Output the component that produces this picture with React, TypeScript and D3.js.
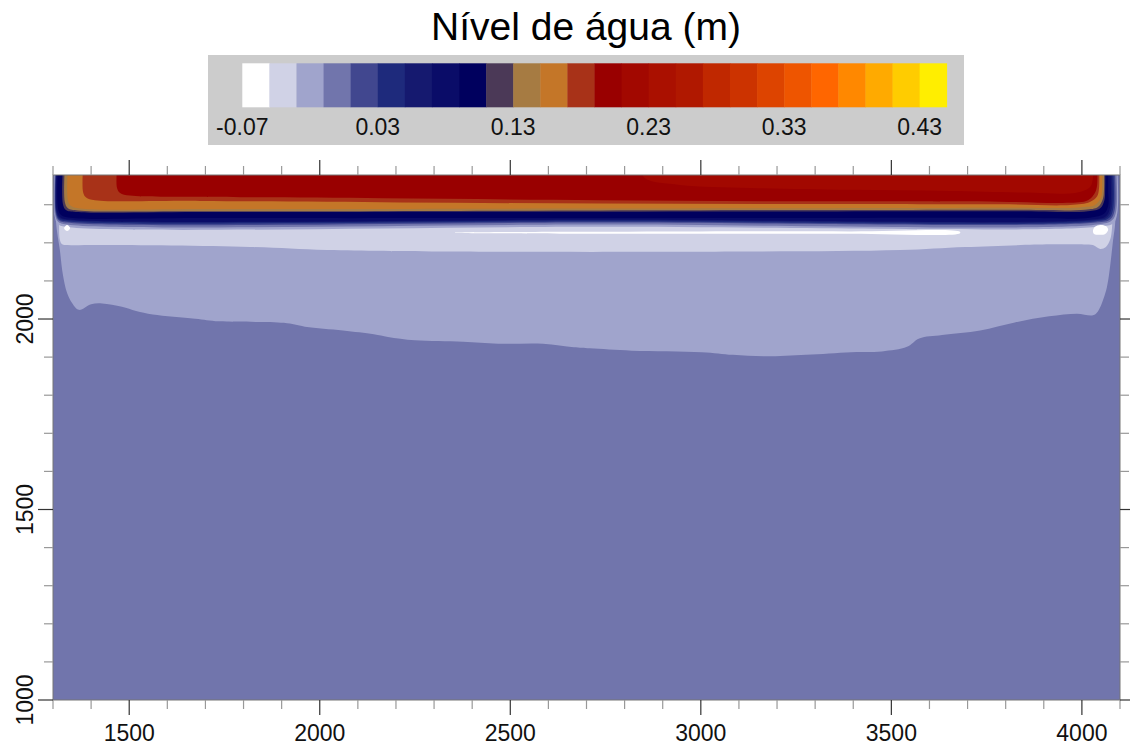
import React from "react";
import * as d3 from "d3";

type Pt = [number, number];

const W = 1130;
const H = 747;
const FONT = '"Liberation Sans", Arial, Helvetica, sans-serif';

// colour levels of the legend (lower bound of each class, step 0.02)
const levelStarts = [
  -0.07, -0.05, -0.03, -0.01, 0.01, 0.03, 0.05, 0.07, 0.09, 0.11, 0.13, 0.15, 0.17,
  0.19, 0.21, 0.23, 0.25, 0.27, 0.29, 0.31, 0.33, 0.35, 0.37, 0.39, 0.41, 0.43,
];
const levelColors = [
  "#ffffff", "#d0d2e6", "#a0a4cc", "#7175ac", "#41478f", "#1e2a7c", "#15196f",
  "#0a0c68", "#00005e", "#4b3957", "#a67b42", "#c47628", "#a83218", "#990000",
  "#a20800", "#aa1000", "#b01800", "#c02800", "#cc3300", "#dd4400", "#ee5500",
  "#ff6600", "#ff8800", "#ffaa00", "#ffcc00", "#ffee00",
];
const legendTickValues = [-0.07, 0.03, 0.13, 0.23, 0.33, 0.43];
const legendTickLabels = ["-0.07", "0.03", "0.13", "0.23", "0.33", "0.43"];

const xMajor = [1500, 2000, 2500, 3000, 3500, 4000];
const yMajor = [1000, 1500, 2000];

// contour boundaries (x, y in map units)
const bandL2: Pt[] = [
  [1308, 2400], [1308, 2255], [1318, 2181], [1326, 2116], [1337, 2068], [1350, 2042],
  [1368, 2024], [1400, 2039], [1429, 2041], [1481, 2032], [1518, 2021], [1562, 2012],
  [1673, 2001], [1736, 1994], [1906, 1990], [1961, 1980], [2061, 1970], [2142, 1960],
  [2179, 1953], [2250, 1944], [2376, 1940], [2468, 1935], [2586, 1935], [2667, 1926],
  [2709, 1923], [2819, 1917], [3003, 1913], [3084, 1906], [3166, 1902], [3276, 1906],
  [3394, 1913], [3475, 1915], [3541, 1927], [3573, 1949], [3633, 1958], [3733, 1970],
  [3824, 1991], [3914, 2007], [3987, 2014], [4029, 2010], [4042, 2020], [4061, 2066],
  [4069, 2102], [4076, 2155], [4082, 2208], [4087, 2247], [4090, 2312], [4090, 2400],
];
const bandL1: Pt[] = [
  [1316, 2400], [1316, 2255], [1318, 2208], [1324, 2196], [1339, 2194], [1423, 2194],
  [1817, 2189], [2019, 2181], [2342, 2177], [3129, 2177], [3523, 2181], [3694, 2189],
  [3916, 2196], [3995, 2196], [4029, 2194], [4048, 2184], [4063, 2189], [4074, 2208],
  [4079, 2239], [4079, 2286], [4079, 2400],
];
const bandS2: Pt[] = [
  [1304, 2400], [1304, 2273], [1312, 2250], [1334, 2242], [2735, 2242], [4042, 2242],
  [4083, 2252], [4093, 2278], [4093, 2400],
];
const bandS3: Pt[] = [
  [1305, 2400], [1305, 2276], [1313, 2256], [1337, 2248], [2735, 2248], [4040, 2248],
  [4079, 2259], [4090, 2283], [4090, 2400],
];
const bandS4: Pt[] = [
  [1307, 2400], [1307, 2278], [1314, 2260], [1337, 2253], [2735, 2253], [4037, 2253],
  [4075, 2262], [4086, 2286], [4086, 2400],
];
const bandS5: Pt[] = [
  [1308, 2400], [1308, 2281], [1316, 2262], [1339, 2256], [2735, 2256], [4034, 2256],
  [4071, 2265], [4082, 2289], [4082, 2400],
];
const bandS6: Pt[] = [
  [1309, 2400], [1309, 2283], [1317, 2265], [1342, 2259], [2735, 2259], [4032, 2259],
  [4067, 2268], [4078, 2291], [4078, 2400],
];
const bandS7: Pt[] = [
  [1310, 2400], [1310, 2286], [1318, 2268], [1345, 2261], [2735, 2261], [4026, 2261],
  [4063, 2270], [4074, 2294], [4074, 2400],
];
const bandS8: Pt[] = [
  [1313, 2400], [1313, 2291], [1321, 2273], [1345, 2266], [1686, 2265], [2735, 2265],
  [3785, 2266], [4021, 2266], [4058, 2276], [4069, 2297], [4069, 2339], [4069, 2400],
];
const bandS9: Pt[] = [
  [1326, 2400], [1326, 2302], [1334, 2286], [1360, 2281], [1686, 2281], [3785, 2283],
  [4016, 2283], [4048, 2291], [4059, 2312], [4061, 2339], [4061, 2400],
];
const bandS10: Pt[] = [
  [1331, 2400], [1331, 2307], [1339, 2291], [1366, 2285], [1686, 2283], [2735, 2285],
  [3785, 2287], [4008, 2287], [4042, 2294], [4055, 2315], [4058, 2339], [4058, 2400],
];
const bandS11: Pt[] = [
  [1339, 2400], [1339, 2312], [1347, 2297], [1371, 2290], [1686, 2289], [2735, 2290],
  [3785, 2292], [3995, 2293], [4034, 2299], [4050, 2318], [4053, 2339], [4053, 2400],
];
const bandS12: Pt[] = [
  [1379, 2400], [1379, 2333], [1387, 2319], [1410, 2312], [1686, 2310], [2211, 2306],
  [2735, 2303], [3260, 2302], [3785, 2301], [3969, 2299], [4021, 2307], [4040, 2322],
  [4045, 2344], [4045, 2400],
];
const bandS13: Pt[] = [
  [1468, 2400], [1468, 2344], [1476, 2331], [1502, 2324], [1686, 2321], [2166, 2317],
  [2735, 2312], [3260, 2309], [3785, 2308], [3961, 2305], [4016, 2312], [4034, 2331],
  [4040, 2352], [4040, 2400],
];
const bandS14: Pt[] = [
  [2840, 2400], [2853, 2370], [2945, 2352], [3129, 2344], [3391, 2339], [3654, 2336],
  [3890, 2331], [3982, 2331], [4021, 2346], [4029, 2370], [4029, 2400],
];
const whiteStreak: Pt[] = [
  [2355, 2227], [2630, 2229], [2998, 2230], [3391, 2230], [3680, 2229],
  [3680, 2225], [3391, 2224], [2998, 2224], [2630, 2224], [2355, 2226],
];
const whiteBlobRight: Pt[] = [
  [4029, 2231], [4034, 2242], [4048, 2247], [4063, 2244], [4069, 2234],
  [4061, 2223], [4045, 2221], [4032, 2223],
];
const whiteDotLeft: Pt[] = [
  [1329, 2239], [1337, 2247], [1345, 2239], [1337, 2231],
];

const layers: { pts: Pt[]; level: number }[] = [
  { pts: bandL2, level: 2 },
  { pts: bandL1, level: 1 },
  { pts: bandS2, level: 2 },
  { pts: bandS3, level: 3 },
  { pts: bandS4, level: 4 },
  { pts: bandS5, level: 5 },
  { pts: bandS6, level: 6 },
  { pts: bandS7, level: 7 },
  { pts: bandS8, level: 8 },
  { pts: bandS9, level: 9 },
  { pts: bandS10, level: 10 },
  { pts: bandS11, level: 11 },
  { pts: bandS12, level: 12 },
  { pts: bandS13, level: 13 },
  { pts: bandS14, level: 14 },
];

export default function App() {
  const left = 53;
  const right = 1120;
  const top = 175;
  const bottom = 700;

  const x = d3.scaleLinear().domain([1300, 4100]).range([left, right]);
  const y = d3.scaleLinear().domain([1000, 2378]).range([bottom, top]);

  const open = d3
    .line<Pt>()
    .x((d) => x(d[0]))
    .y((d) => y(d[1]))
    .curve(d3.curveCatmullRom.alpha(0.5));
  const closed = d3
    .line<Pt>()
    .x((d) => x(d[0]))
    .y((d) => y(d[1]))
    .curve(d3.curveCatmullRomClosed.alpha(0.5));

  const lx = d3.scaleLinear().domain([-0.07, 0.45]).range([242.3, 946.7]);

  const xTicks = d3.range(1300, 4101, 100);
  const yTicks = d3.range(1000, 2301, 100);
  const isMajor = (v: number) => v % 500 === 0;

  return (
    <svg
      width={W}
      height={H}
      style={{ position: "absolute", left: 0, top: 0, display: "block", background: "#fff" }}
      fontFamily={FONT}
    >
      {/* title + legend */}
      <text x={586} y={40} fontSize={39} textAnchor="middle" fill="#000">
        Nível de água (m)
      </text>
      <rect x={208} y={55} width={756} height={90} fill="#cccccc" />
      {levelStarts.map((v, i) => (
        <rect
          key={v}
          x={lx(v)}
          y={63.3}
          width={lx(v + 0.02) - lx(v) + 0.4}
          height={44}
          fill={levelColors[i]}
        />
      ))}
      {legendTickValues.map((v, i) => (
        <text key={v} x={lx(v)} y={135} fontSize={23} textAnchor="middle" fill="#111">
          {legendTickLabels[i]}
        </text>
      ))}

      {/* contour map */}
      <defs>
        <clipPath id="plotClip">
          <rect x={left} y={top} width={right - left} height={bottom - top} />
        </clipPath>
      </defs>
      <g clipPath="url(#plotClip)">
        <rect x={left} y={top} width={right - left} height={bottom - top} fill={levelColors[3]} />
        {layers.map((l, i) => (
          <path key={i} d={open(l.pts) + "Z"} fill={levelColors[l.level]} />
        ))}
        <path d={open(whiteStreak) + "Z"} fill={levelColors[0]} />
        <path d={closed(whiteBlobRight) ?? ""} fill={levelColors[0]} />
        <path d={closed(whiteDotLeft) ?? ""} fill={levelColors[0]} />
      </g>
      <rect
        x={left}
        y={top}
        width={right - left}
        height={bottom - top}
        fill="none"
        stroke="#777"
        strokeWidth={1}
      />

      {/* ticks */}
      {xTicks.map((v) => {
        const len = isMajor(v) ? 15 : 9;
        const c = isMajor(v) ? "#333" : "#999";
        return (
          <g key={"x" + v} stroke={c} strokeWidth={1.2}>
            <line x1={x(v)} x2={x(v)} y1={bottom} y2={bottom + len} />
            <line x1={x(v)} x2={x(v)} y1={top} y2={top - len} />
          </g>
        );
      })}
      {yTicks.map((v) => {
        const len = isMajor(v) ? 15 : 9;
        const c = isMajor(v) ? "#333" : "#999";
        return (
          <g key={"y" + v} stroke={c} strokeWidth={1.2}>
            <line x1={left} x2={left - len} y1={y(v)} y2={y(v)} />
            <line x1={right} x2={right + len} y1={y(v)} y2={y(v)} />
          </g>
        );
      })}
      {xMajor.map((v) => (
        <text key={"xl" + v} x={x(v)} y={741} fontSize={23} textAnchor="middle" fill="#111">
          {v}
        </text>
      ))}
      {yMajor.map((v) => (
        <text
          key={"yl" + v}
          transform={`translate(33,${y(v)}) rotate(-90)`}
          fontSize={23}
          textAnchor="middle"
          fill="#111"
        >
          {v}
        </text>
      ))}
    </svg>
  );
}
